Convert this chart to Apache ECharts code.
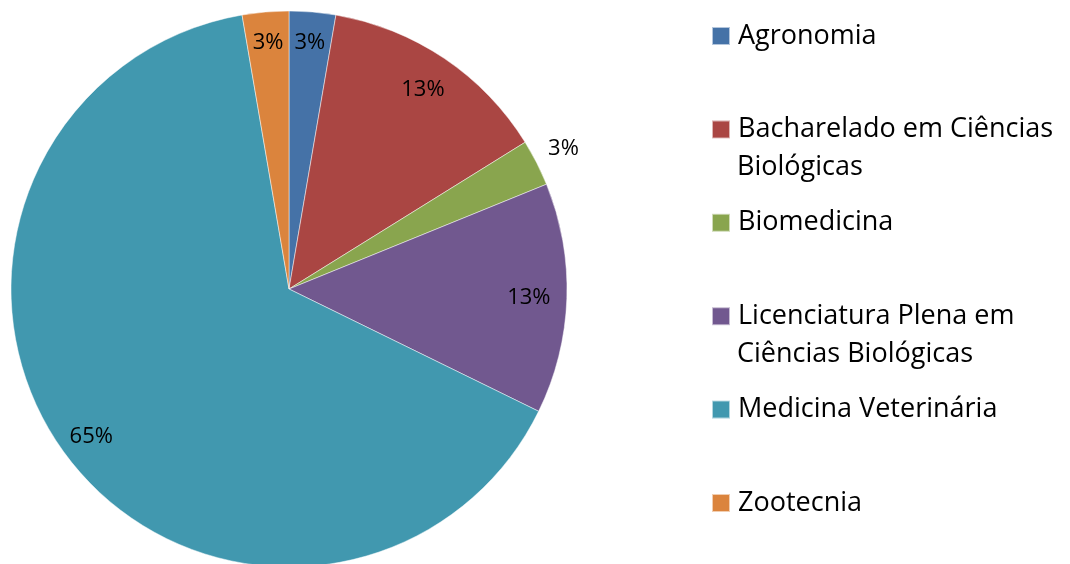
<!DOCTYPE html>
<html lang="pt">
<head>
    <meta charset="UTF-8">
    <title>Cursos</title>
    <script src="https://cdn.jsdelivr.net/npm/echarts@6/dist/echarts.min.js"></script>
    <style>
        html, body {margin: 0; padding: 0; background: #fff;}
        #chart {width: 1070px; height: 564px;}
    </style>
</head>
<body>
<div id="chart"></div>
<script>
    const cursos = ['Agronomia', 'Bacharelado em Ciências Biológicas', 'Biomedicina',
        'Licenciatura Plena em Ciências Biológicas', 'Medicina Veterinária', 'Zootecnia'];
    const percentuais = [2.7, 13.45, 2.7, 13.4, 65.05, 2.7];
    // como a legenda quebra os nomes
    const linha1 = ['Agronomia', 'Bacharelado em Ciências', 'Biomedicina',
        'Licenciatura Plena em', 'Medicina Veterinária', 'Zootecnia'];
    const linha2 = ['', 'Biológicas', '', 'Ciências Biológicas', '', ''];
    const cores = ['#4572A7', '#AA4643', '#89A54E', '#71588F', '#4198AF', '#DB843D'];
    // onde cada rótulo fica: 0 = perto da borda, 1 = um pouco mais para dentro, 2 = fora
    const posRotulo = [0, 1, 2, 1, 0, 0];

    const fonte = '"Open Sans", "Liberation Sans", sans-serif';
    const fmt = p => Math.round(p.percent) + '%';

    const dados = cursos.map((c, i) => ({name: c, value: percentuais[i], itemStyle: {color: cores[i]}}));
    const grupo = k => cursos.map((c, i) => ({name: c, value: percentuais[i], label: {show: posRotulo[i] === k}}));

    const gap = 93.4, lh = 32, fs = 27;
    const extras = [];
    linha2.forEach((t, i) => {
        if (!t) return;
        extras.push({
            type: 'text', left: 737, top: 36 + gap * i + 38 - lh / 2,
            style: {text: t, font: fs + 'px ' + fonte, fill: '#000', lineHeight: lh, verticalAlign: 'top'}
        });
    });

    const rotulos = (raio, data) => ({
        type: 'pie', center: [289, 289], radius: raio,
        startAngle: 90, clockwise: true, silent: true,
        itemStyle: {color: 'transparent'},
        label: {position: 'inside', color: '#000', fontFamily: fonte, fontSize: 22, formatter: fmt},
        labelLine: {show: false},
        emphasis: {disabled: true},
        data: data
    });

    const chart = echarts.init(document.getElementById('chart'));
    chart.setOption({
        animation: false,
        legend: {
            orient: 'vertical', left: 711, top: 36 - lh / 2, padding: 0,
            itemWidth: 18, itemHeight: 18, itemGap: gap - lh,
            icon: 'rect', selectedMode: false,
            data: cursos,
            formatter: name => linha1[cursos.indexOf(name)],
            textStyle: {fontFamily: fonte, fontSize: fs, color: '#000', lineHeight: lh, padding: [0, 0, 0, 3]}
        },
        graphic: extras,
        series: [
            {
                type: 'pie', center: [289, 289], radius: 278,
                startAngle: 90, clockwise: true,
                label: {show: false}, labelLine: {show: false},
                itemStyle: {borderColor: 'rgba(255,255,255,0.6)', borderWidth: 0.8},
                emphasis: {disabled: true},
                data: dados
            },
            rotulos([210, 278], grupo(0)),
            rotulos([196, 278], grupo(1)),
            rotulos([290, 320], grupo(2))
        ]
    });
</script>
</body>
</html>
